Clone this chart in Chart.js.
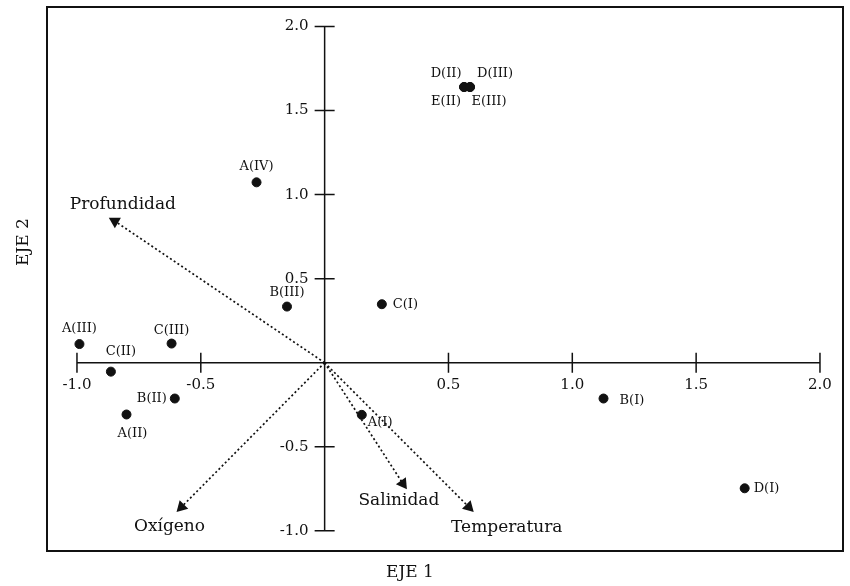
<!DOCTYPE html>
<html>
<head>
<meta charset="utf-8">
<script src="https://cdn.jsdelivr.net/npm/chart.js@4"></script>
<style>
  body { margin: 0; background: #fff; }
  #wrap { width: 850px; height: 586px; }
</style>
</head>
<body>
<div id="wrap"><canvas id="biplot"></canvas></div>
<script>
// sample points (EJE 1, EJE 2)
const stations = ['A(I)', 'A(II)', 'A(III)', 'A(IV)', 'B(I)', 'B(II)', 'B(III)', 'C(I)', 'C(II)', 'C(III)', 'D(I)', 'D(II)', 'D(III)', 'E(II)', 'E(III)'];
const eje1 = [0.15, -0.80, -0.99, -0.275, 1.126, -0.605, -0.152, 0.231, -0.863, -0.618, 1.696, 0.563, 0.587, 0.563, 0.587];
const eje2 = [-0.31, -0.308, 0.111, 1.073, -0.213, -0.213, 0.334, 0.348, -0.053, 0.114, -0.747, 1.64, 1.64, 1.64, 1.64];

// environmental vectors
const variables = ['Profundidad', 'Oxígeno', 'Salinidad', 'Temperatura'];
const vecX = [-0.847, -0.578, 0.316, 0.582];
const vecY = [0.842, -0.858, -0.719, -0.858];

// axis ticks
const xTicks = [-1.0, -0.5, 0.5, 1.0, 1.5, 2.0];
const yTicks = [-1.0, -0.5, 0.5, 1.0, 1.5, 2.0];

// label placement (pixels from the mark)
const stationLabelDx = [6, 6, 0, 0, 16, -8, 0, 11, 10, 0, 9, -18, 25, -18, 19];
const stationLabelDy = [8, 19, -15, -16, 2, 0, -14, 0, -20, -13, 0, -13, -13, 15, 15];
const stationLabelAlign = ['left', 'center', 'center', 'center', 'left', 'right', 'center', 'left', 'center', 'center', 'left', 'center', 'center', 'center', 'center'];
const varLabelDx = [8, -12, -4, 38];
const varLabelDy = [-17, 20, 17, 21];
const arrowRot = [180, 225, 265, 135];

const serif = '"DejaVu Serif", "Liberation Serif", serif';

const ctx = document.getElementById('biplot');

const vectorSets = variables.map(function (v, i) {
  return {
    label: v,
    type: 'line',
    data: [{ x: 0, y: 0 }, { x: vecX[i], y: vecY[i] }],
    borderColor: '#111',
    borderWidth: 1.7,
    borderDash: [2, 2.5],
    backgroundColor: '#111',
    pointStyle: 'triangle',
    pointRadius: [0, 7],
    pointRotation: [0, arrowRot[i]],
    pointBorderWidth: 0,
    fill: false,
    tension: 0
  };
});

const biplotDecor = {
  id: 'biplotDecor',
  beforeDatasetsDraw(chart) {
    const c = chart.ctx;
    const sx = chart.scales.x, sy = chart.scales.y;
    const x0 = sx.getPixelForValue(0), y0 = sy.getPixelForValue(0);
    c.save();
    c.strokeStyle = '#111';
    c.lineWidth = 1.5;
    // axes through origin
    c.beginPath();
    c.moveTo(sx.getPixelForValue(-1), y0);
    c.lineTo(sx.getPixelForValue(2), y0);
    c.moveTo(x0, sy.getPixelForValue(-1));
    c.lineTo(x0, sy.getPixelForValue(2));
    c.stroke();
    c.beginPath();
    xTicks.forEach(function (t) {
      const px = sx.getPixelForValue(t);
      c.moveTo(px, y0 - 10);
      c.lineTo(px, y0 + 10);
    });
    yTicks.forEach(function (t) {
      const py = sy.getPixelForValue(t);
      c.moveTo(x0 - 10, py);
      c.lineTo(x0 + 10, py);
    });
    c.stroke();
    // tick labels
    c.fillStyle = '#111';
    c.font = '15px ' + serif;
    c.textAlign = 'center';
    c.textBaseline = 'middle';
    xTicks.forEach(function (t) {
      c.fillText(t.toFixed(1), sx.getPixelForValue(t), y0 + 22);
    });
    c.textAlign = 'right';
    yTicks.forEach(function (t) {
      c.fillText(t.toFixed(1), x0 - 16, sy.getPixelForValue(t));
    });
    c.restore();
  },
  afterDatasetsDraw(chart) {
    const c = chart.ctx;
    const sx = chart.scales.x, sy = chart.scales.y;
    const a = chart.chartArea;
    c.save();
    // frame
    c.strokeStyle = '#111';
    c.lineWidth = 2;
    c.strokeRect(a.left, a.top, a.right - a.left, a.bottom - a.top);
    c.fillStyle = '#111';
    c.textBaseline = 'middle';
    // station labels
    c.font = '13px ' + serif;
    stations.forEach(function (s, i) {
      c.textAlign = stationLabelAlign[i];
      c.fillText(s, sx.getPixelForValue(eje1[i]) + stationLabelDx[i], sy.getPixelForValue(eje2[i]) + stationLabelDy[i]);
    });
    // vector labels
    c.font = '17px ' + serif;
    c.textAlign = 'center';
    variables.forEach(function (v, i) {
      c.fillText(v, sx.getPixelForValue(vecX[i]) + varLabelDx[i], sy.getPixelForValue(vecY[i]) + varLabelDy[i]);
    });
    // axis titles
    c.font = '17px ' + serif;
    c.fillText('EJE 1', 410, 573);
    c.translate(24, 242);
    c.rotate(-Math.PI / 2);
    c.fillText('EJE 2', 0, 0);
    c.restore();
  }
};

new Chart(ctx, {
  type: 'scatter',
  data: {
    datasets: [{
      label: 'Estaciones',
      data: eje1.map(function (x, i) { return { x: x, y: eje2[i] }; }),
      backgroundColor: '#111',
      borderColor: '#111',
      pointRadius: 4.5,
      pointHoverRadius: 4.5
    }].concat(vectorSets)
  },
  options: {
    responsive: true,
    maintainAspectRatio: false,
    animation: false,
    layout: { padding: { left: 47, right: 6, top: 5, bottom: 35 } },
    plugins: { legend: { display: false }, tooltip: { enabled: false } },
    scales: {
      x: { type: 'linear', min: -1.121, max: 2.093, display: false },
      y: { type: 'linear', min: -1.12, max: 2.116, display: false }
    }
  },
  plugins: [biplotDecor]
});
</script>
</body>
</html>
